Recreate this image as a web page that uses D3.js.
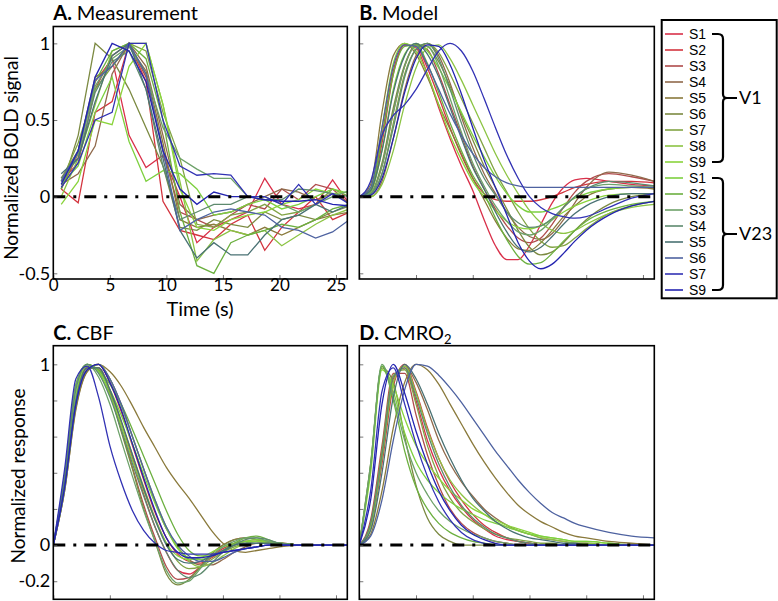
<!DOCTYPE html>
<html><head><meta charset="utf-8">
<script src="https://cdn.jsdelivr.net/npm/d3@7"></script>
<style>
body{margin:0;background:#fff;}
svg{font-family:Lato,"Open Sans",sans-serif;}
</style></head>
<body><svg id="c" width="778" height="601"></svg>
<script>
// ---------- DATA ----------
const seriesNames = ["S1","S2","S3","S4","S5","S6","S7","S8","S9","S1","S2","S3","S4","S5","S6","S7","S9"];
const groups = [{name:"V1", from:0, to:8},{name:"V23", from:9, to:16}];
const seriesColors = ["#d9304a","#d3343e","#b04c4c","#906a4c","#8a7a3c","#7c8a42","#82a444","#8cc444","#8ad43c",
                      "#7ed040","#6cb040","#6ea26a","#5e8a6e","#4a7274","#4e62a0","#3232b4","#2424b0"];

// Panel A: measured BOLD (sampled)
const timeA = [0.7,2.2,3.7,5.2,6.7,8.2,9.7,11.2,12.7,14.2,15.7,17.2,18.7,20.2,21.7,23.2,24.7,26.2];
const boldMeasured = [
 [0.05,0.28,0.75,0.9,0.4,0.19,0.27,0.0,-0.3,-0.2,-0.15,-0.1,0.12,-0.05,-0.08,-0.05,0.11,-0.05],
 [0.05,-0.04,0.55,0.62,1.0,0.75,-0.03,-0.22,-0.25,-0.28,-0.18,-0.12,-0.35,-0.2,-0.1,0.0,-0.15,-0.1],
 [0.1,0.22,0.7,0.92,1.0,0.78,0.3,-0.1,-0.15,-0.2,-0.12,-0.05,-0.08,0.05,-0.02,0.08,0.05,-0.05],
 [0.08,0.15,0.33,0.8,1.0,0.85,0.4,-0.05,-0.15,-0.12,-0.1,-0.05,0.0,0.05,0.03,-0.02,0.02,-0.04],
 [0.12,0.3,0.78,0.85,0.98,0.82,0.35,-0.15,-0.2,-0.18,-0.22,-0.25,-0.2,-0.25,-0.2,-0.15,-0.12,-0.1],
 [0.05,0.4,1.0,0.9,0.7,0.45,0.2,-0.2,-0.22,-0.15,-0.18,-0.2,-0.1,-0.15,-0.12,-0.15,-0.1,-0.06],
 [0.1,0.35,0.7,0.85,1.0,0.95,0.55,0.25,-0.18,-0.2,-0.12,-0.1,-0.05,-0.12,-0.1,-0.05,0.05,0.0],
 [0.0,0.25,0.6,0.95,1.0,1.0,0.6,0.1,-0.42,-0.28,-0.22,-0.25,-0.22,-0.32,-0.25,-0.18,-0.12,-0.08],
 [-0.05,0.1,0.5,0.47,0.85,1.0,0.6,0.05,-0.2,-0.22,-0.15,-0.12,-0.1,-0.05,-0.02,0.05,0.02,0.03],
 [0.08,0.2,0.55,0.78,0.36,0.1,0.17,0.15,0.05,-0.12,-0.1,-0.05,-0.02,-0.08,-0.05,0.0,0.05,0.02],
 [0.05,0.3,0.75,0.95,1.0,0.9,0.5,-0.1,-0.45,-0.5,-0.3,-0.25,-0.22,-0.18,-0.2,-0.15,-0.08,-0.05],
 [0.1,0.28,0.72,0.9,0.98,0.8,0.45,0.25,0.18,0.12,0.12,0.0,0.0,-0.05,-0.1,-0.05,0.0,0.04],
 [0.12,0.25,0.68,0.88,0.95,0.7,0.2,-0.15,-0.1,-0.05,-0.05,0.0,-0.02,-0.02,0.05,0.04,0.02,0.0],
 [0.15,0.25,0.62,0.92,1.0,0.7,0.25,-0.22,-0.4,-0.3,-0.38,-0.38,-0.25,-0.15,-0.12,-0.05,-0.1,-0.05],
 [0.1,0.3,0.76,0.85,1.0,0.8,0.3,-0.22,-0.15,-0.1,-0.08,-0.1,-0.12,-0.2,-0.22,-0.27,-0.23,-0.15],
 [0.06,0.22,0.5,0.55,1.0,1.0,0.5,0.2,0.14,0.15,0.14,0.0,0.0,-0.05,0.08,-0.05,0.02,-0.05],
 [0.08,0.3,0.78,1.0,0.95,0.75,0.3,0.05,-0.05,0.03,0.0,0.0,-0.02,-0.03,-0.03,-0.02,-0.05,-0.06]
];

// Panels B, C, D: model curves sampled on a common time grid
const timeS = [0,1,2,3,4,5,6,7,8,9,10,11,12,13,14,15,16,17,18,19,20,22,24,26];
const boldModel = [
 [0,0.03,0.35,0.8,0.99,0.97,0.8,0.58,0.38,0.2,0.04,-0.15,-0.32,-0.41,-0.41,-0.32,-0.18,-0.04,0.06,0.11,0.12,0.1,0.08,0.07],
 [0,0.05,0.4,0.82,0.99,0.98,0.84,0.65,0.45,0.27,0.12,0.02,-0.02,-0.03,-0.03,-0.03,-0.02,0.0,0.03,0.06,0.08,0.1,0.1,0.09],
 [0,0.02,0.2,0.55,0.85,0.99,0.96,0.8,0.6,0.4,0.2,0.05,-0.08,-0.19,-0.27,-0.3,-0.27,-0.18,-0.07,0.03,0.1,0.15,0.13,0.1],
 [0,0.0,0.1,0.38,0.7,0.92,1.0,0.92,0.74,0.52,0.32,0.15,0.02,-0.1,-0.2,-0.26,-0.28,-0.24,-0.15,-0.04,0.06,0.16,0.14,0.1],
 [0,0.08,0.55,0.92,1.0,0.93,0.78,0.6,0.44,0.28,0.12,-0.02,-0.16,-0.27,-0.34,-0.35,-0.3,-0.22,-0.13,-0.06,0.0,0.05,0.06,0.05],
 [0,0.02,0.22,0.58,0.86,0.99,0.98,0.88,0.72,0.54,0.37,0.2,0.06,-0.08,-0.22,-0.33,-0.38,-0.36,-0.3,-0.22,-0.15,-0.05,0.0,0.02],
 [0,0.01,0.15,0.48,0.8,0.96,1.0,0.94,0.8,0.64,0.48,0.32,0.16,0.03,-0.1,-0.21,-0.29,-0.33,-0.32,-0.27,-0.21,-0.11,-0.06,-0.03],
 [0,0.0,0.08,0.3,0.6,0.84,0.97,0.99,0.9,0.76,0.6,0.44,0.28,0.14,0.02,-0.09,-0.17,-0.22,-0.24,-0.22,-0.18,-0.11,-0.07,-0.05],
 [0,0.05,0.45,0.87,1.0,0.95,0.8,0.6,0.4,0.24,0.1,0.0,-0.09,-0.16,-0.2,-0.21,-0.19,-0.15,-0.1,-0.06,-0.03,0.01,0.02,0.02],
 [0,0.03,0.3,0.7,0.93,1.0,0.95,0.84,0.7,0.55,0.4,0.26,0.13,0.02,-0.06,-0.1,-0.1,-0.08,-0.05,-0.01,0.02,0.05,0.06,0.06],
 [0,0.04,0.38,0.8,0.98,0.99,0.87,0.68,0.48,0.3,0.14,0.02,-0.14,-0.28,-0.39,-0.44,-0.43,-0.37,-0.29,-0.22,-0.16,-0.09,-0.05,-0.03],
 [0,0.02,0.2,0.55,0.85,0.98,0.98,0.85,0.64,0.42,0.22,0.07,-0.06,-0.16,-0.23,-0.25,-0.22,-0.15,-0.07,0.0,0.05,0.08,0.07,0.06],
 [0,0.02,0.15,0.45,0.78,0.96,1.0,0.9,0.7,0.48,0.28,0.12,0.01,-0.1,-0.17,-0.2,-0.19,-0.14,-0.07,0.0,0.05,0.1,0.09,0.07],
 [0,0.04,0.3,0.68,0.92,1.0,0.93,0.78,0.58,0.38,0.19,0.05,-0.1,-0.23,-0.33,-0.36,-0.33,-0.26,-0.18,-0.11,-0.06,0.0,0.02,0.02],
 [0,0.06,0.45,0.85,0.99,0.98,0.86,0.7,0.54,0.4,0.28,0.19,0.13,0.09,0.07,0.06,0.06,0.06,0.06,0.06,0.06,0.06,0.06,0.06],
 [0,0.1,0.4,0.53,0.6,0.7,0.83,0.95,1.0,0.95,0.82,0.64,0.45,0.27,0.12,0.0,-0.07,-0.11,-0.13,-0.14,-0.13,-0.07,-0.01,0.02],
 [0,0.01,0.12,0.38,0.68,0.9,0.99,0.98,0.86,0.67,0.45,0.24,0.06,-0.12,-0.3,-0.42,-0.47,-0.44,-0.37,-0.29,-0.22,-0.12,-0.06,-0.03]
];
const cbf = [
 [0,0.33,0.8,0.98,0.98,0.86,0.68,0.48,0.28,0.1,-0.04,-0.14,-0.16,-0.12,-0.06,-0.02,0.01,0.02,0.02,0.01,0.0,0,0,0],
 [0,0.32,0.78,0.97,1.0,0.9,0.74,0.55,0.36,0.18,0.04,-0.05,-0.09,-0.1,-0.07,-0.03,0.0,0.02,0.02,0.01,0.01,0,0,0],
 [0,0.34,0.8,0.98,0.97,0.84,0.64,0.43,0.22,0.04,-0.12,-0.19,-0.18,-0.12,-0.05,0.0,0.03,0.04,0.03,0.02,0.01,0,0,0],
 [0,0.3,0.76,0.96,1.0,0.92,0.78,0.6,0.42,0.24,0.09,-0.01,-0.08,-0.11,-0.11,-0.08,-0.04,-0.01,0.01,0.01,0.01,0,0,0],
 [0,0.3,0.75,0.96,1.0,0.96,0.88,0.77,0.65,0.54,0.43,0.34,0.26,0.17,0.08,0.01,-0.03,-0.04,-0.03,-0.02,-0.01,0,0,0],
 [0,0.33,0.8,0.98,0.98,0.84,0.63,0.42,0.2,0.02,-0.16,-0.22,-0.19,-0.12,-0.05,0.0,0.03,0.04,0.03,0.02,0.01,0,0,0],
 [0,0.35,0.82,0.99,0.97,0.85,0.68,0.5,0.32,0.15,0.01,-0.09,-0.13,-0.12,-0.08,-0.04,-0.01,0.01,0.02,0.01,0.01,0,0,0],
 [0,0.31,0.78,0.97,1.0,0.92,0.77,0.6,0.42,0.25,0.1,-0.01,-0.09,-0.12,-0.1,-0.06,-0.02,0.01,0.02,0.02,0.01,0,0,0],
 [0,0.36,0.83,1.0,0.96,0.83,0.66,0.47,0.3,0.14,0.01,-0.06,-0.08,-0.07,-0.04,-0.01,0.01,0.02,0.02,0.01,0.0,0,0,0],
 [0,0.38,0.88,1.0,0.96,0.86,0.72,0.56,0.39,0.23,0.09,-0.02,-0.07,-0.08,-0.06,-0.03,0.0,0.02,0.03,0.02,0.01,0,0,0],
 [0,0.39,0.89,1.0,0.97,0.89,0.78,0.64,0.49,0.34,0.19,0.06,-0.03,-0.06,-0.06,-0.03,0.01,0.04,0.05,0.03,0.01,0,0,0],
 [0,0.38,0.88,1.0,0.93,0.78,0.58,0.38,0.19,0.02,-0.14,-0.21,-0.2,-0.13,-0.06,-0.01,0.02,0.04,0.04,0.02,0.01,0,0,0],
 [0,0.37,0.86,1.0,0.95,0.82,0.64,0.45,0.27,0.1,-0.04,-0.14,-0.18,-0.16,-0.1,-0.04,0.0,0.03,0.04,0.03,0.01,0,0,0],
 [0,0.34,0.8,0.98,0.98,0.86,0.69,0.5,0.31,0.14,0.0,-0.08,-0.1,-0.09,-0.06,-0.03,0.0,0.01,0.01,0.01,0.0,0,0,0],
 [0,0.31,0.78,0.97,1.0,0.92,0.78,0.6,0.42,0.25,0.1,0.0,-0.06,-0.09,-0.09,-0.07,-0.04,-0.02,-0.01,0.0,0.0,0,0,0],
 [0,0.42,0.92,0.99,0.82,0.55,0.35,0.19,0.08,0.01,-0.03,-0.04,-0.05,-0.05,-0.05,-0.04,-0.03,-0.02,-0.01,0.0,0.0,0,0,0],
 [0,0.32,0.78,0.97,1.0,0.9,0.75,0.56,0.37,0.19,0.04,-0.04,-0.07,-0.07,-0.06,-0.04,-0.03,-0.02,-0.01,0.0,0.0,0,0,0]
];
const cmro2 = [
 [0,0.12,0.5,0.92,0.98,0.8,0.58,0.42,0.3,0.21,0.14,0.09,0.05,0.03,0.02,0.01,0,0,0,0,0,0,0,0],
 [0,0.1,0.45,0.88,1.0,0.85,0.65,0.48,0.35,0.25,0.17,0.11,0.07,0.04,0.02,0.01,0,0,0,0,0,0,0,0],
 [0,0.14,0.55,0.95,0.95,0.72,0.5,0.33,0.2,0.12,0.07,0.04,0.02,0.01,0,0,0,0,0,0,0,0,0,0],
 [0,0.1,0.48,0.9,0.99,0.9,0.75,0.58,0.45,0.35,0.27,0.2,0.15,0.11,0.08,0.06,0.04,0.03,0.02,0.01,0.01,0,0,0],
 [0,0.06,0.3,0.65,0.9,1.0,0.97,0.89,0.78,0.67,0.56,0.46,0.37,0.29,0.22,0.17,0.13,0.1,0.07,0.05,0.04,0.02,0.01,0],
 [0,0.45,0.98,0.9,0.6,0.33,0.15,0.06,0.02,0,0,0,0,0,0,0,0,0,0,0,0,0,0,0],
 [0,0.12,0.52,0.94,0.97,0.78,0.55,0.38,0.26,0.18,0.13,0.09,0.06,0.04,0.03,0.02,0.01,0.01,0,0,0,0,0,0],
 [0,0.1,0.48,0.9,0.99,0.84,0.64,0.48,0.36,0.28,0.22,0.17,0.13,0.1,0.08,0.06,0.04,0.03,0.02,0.01,0.01,0,0,0],
 [0,0.4,0.97,0.88,0.7,0.55,0.45,0.37,0.3,0.25,0.2,0.17,0.14,0.11,0.09,0.07,0.05,0.04,0.03,0.02,0.02,0.01,0,0],
 [0,0.43,0.99,0.85,0.62,0.46,0.36,0.29,0.24,0.2,0.17,0.14,0.12,0.1,0.08,0.06,0.05,0.04,0.03,0.02,0.02,0.01,0,0],
 [0,0.44,0.99,0.8,0.52,0.32,0.2,0.12,0.07,0.04,0.02,0.01,0,0,0,0,0,0,0,0,0,0,0,0],
 [0,0.45,1.0,0.82,0.58,0.4,0.28,0.19,0.13,0.09,0.06,0.04,0.02,0.01,0,0,0,0,0,0,0,0,0,0],
 [0,0.12,0.5,0.93,0.98,0.82,0.62,0.45,0.32,0.22,0.15,0.1,0.06,0.04,0.02,0.01,0,0,0,0,0,0,0,0],
 [0,0.08,0.4,0.82,1.0,0.92,0.78,0.62,0.48,0.36,0.26,0.19,0.13,0.09,0.06,0.04,0.03,0.02,0.01,0.01,0,0,0,0],
 [0,0.05,0.25,0.58,0.86,1.0,0.99,0.94,0.87,0.79,0.7,0.61,0.52,0.44,0.36,0.29,0.23,0.18,0.15,0.12,0.1,0.07,0.05,0.04],
 [0,0.3,0.85,0.98,0.78,0.56,0.38,0.24,0.14,0.07,0.03,0.01,0,0,0,0,0,0,0,0,0,0,0,0],
 [0,0.25,0.78,1.0,0.84,0.63,0.45,0.3,0.19,0.11,0.06,0.03,0.01,0,0,0,0,0,0,0,0,0,0,0]
];

const xTicks = [0,5,10,15,20,25];
const yTicksTop = [-0.5,0,0.5,1];
const yTickLabelsTop = ["-0.5","0","0.5","1"];
const yTicksBottom = [-0.2,0,0.2,0.4,0.6,0.8,1];
const yTickLabelsBottom = {"-0.2":"-0.2","0":"0","1":"1"};

// ---------- DRAW ----------
const svg = d3.select("#c");
const FONT = 'Lato,"Open Sans",sans-serif';

function panel(cfg){
  const x = d3.scaleLinear().domain([0,26]).range([cfg.x0,cfg.x1]);
  const y = d3.scaleLinear().domain(cfg.ydom).range([cfg.y1,cfg.y0]);
  const g = svg.append("g");
  const clipId = "clip"+cfg.id;
  svg.append("clipPath").attr("id",clipId).append("rect")
     .attr("x",cfg.x0).attr("y",cfg.y0).attr("width",cfg.x1-cfg.x0).attr("height",cfg.y1-cfg.y0);
  const lines = g.append("g").attr("clip-path",`url(#${clipId})`);
  const line = d3.line().x((d,i)=>x(cfg.times[i])).y(d=>y(d)).curve(cfg.curve);
  cfg.data.forEach((s,i)=>{
    lines.append("path").attr("d",line(s)).attr("fill","none")
      .attr("stroke",seriesColors[i]).attr("stroke-width",1.3);
  });
  // zero line
  lines.append("line").attr("x1",x(0)).attr("x2",cfg.x1).attr("y1",y(0)).attr("y2",y(0))
    .attr("stroke","#000").attr("stroke-width",3).attr("stroke-dasharray","12,8,3,8");
  // ticks (inward)
  const xa = d3.axisBottom(x).tickValues(cfg.xTickVals).tickSize(-4).tickSizeOuter(0)
     .tickFormat(cfg.xLabels ? d3.format("d") : "");
  const gx = g.append("g").attr("transform",`translate(0,${cfg.y1})`).call(xa);
  gx.select(".domain").remove();
  gx.selectAll(".tick line").attr("stroke","#555").attr("stroke-width",0.8);
  gx.selectAll("text").attr("font-family",FONT).attr("font-size",17).attr("fill","#000").attr("y",0).attr("dy","0.72em");
  const ya = d3.axisLeft(y).tickValues(cfg.yTickVals).tickSize(-4).tickSizeOuter(0)
     .tickFormat(cfg.yFormat);
  const gy = g.append("g").attr("transform",`translate(${cfg.x0},0)`).call(ya);
  gy.select(".domain").remove();
  gy.selectAll(".tick line").attr("stroke","#555").attr("stroke-width",0.8);
  gy.selectAll("text").attr("font-family",FONT).attr("font-size",18).attr("fill","#000").attr("x",-3);
  // frame
  g.append("rect").attr("x",cfg.x0).attr("y",cfg.y0).attr("width",cfg.x1-cfg.x0).attr("height",cfg.y1-cfg.y0)
    .attr("fill","none").attr("stroke","#000").attr("stroke-width",1.6);
  // title
  const t = g.append("text").attr("x",cfg.x0).attr("y",cfg.titleY).attr("font-family",FONT).attr("font-size",20);
  t.append("tspan").attr("font-weight","bold").text(cfg.letter+" ");
  t.append("tspan").text(cfg.title);
  if(cfg.sub){ t.append("tspan").attr("font-size",13).attr("dy",4).text(cfg.sub); }
  return {x,y};
}

const topDom = [-0.537,1.11], botDom = [-0.3,1.103];
panel({id:"A",x0:53.3,x1:347.3,y0:26.5,y1:279,ydom:topDom,times:timeA,data:boldMeasured,curve:d3.curveLinear,
  xTickVals:xTicks,xLabels:true,yTickVals:yTicksTop,yFormat:(d)=>yTickLabelsTop[yTicksTop.indexOf(d)],
  letter:"A.",title:"Measurement",titleY:20});
panel({id:"B",x0:359.3,x1:654.3,y0:26.5,y1:279,ydom:topDom,times:timeS,data:boldModel,curve:d3.curveMonotoneX,
  xTickVals:xTicks,xLabels:false,yTickVals:yTicksTop,yFormat:()=>"",letter:"B.",title:"Model",titleY:20});
panel({id:"C",x0:53.3,x1:347.3,y0:345.7,y1:599.3,ydom:botDom,times:timeS,data:cbf,curve:d3.curveMonotoneX,
  xTickVals:xTicks,xLabels:false,yTickVals:yTicksBottom,yFormat:(d)=>yTickLabelsBottom[String(+d.toFixed(1))]||"",
  letter:"C.",title:"CBF",titleY:340});
panel({id:"D",x0:359.3,x1:654.3,y0:345.7,y1:599.3,ydom:botDom,times:timeS,data:cmro2,curve:d3.curveMonotoneX,
  xTickVals:xTicks,xLabels:false,yTickVals:yTicksBottom,yFormat:()=>"",letter:"D.",title:"CMRO",sub:"2",titleY:340});

// axis titles
svg.append("text").attr("transform","translate(18,158) rotate(-90)").attr("text-anchor","middle")
  .attr("font-family",FONT).attr("font-size",19).text("Normalized BOLD signal");
svg.append("text").attr("x",200).attr("y",315.5).attr("text-anchor","middle")
  .attr("font-family",FONT).attr("font-size",20).text("Time (s)");
svg.append("text").attr("transform","translate(25,476) rotate(-90)").attr("text-anchor","middle")
  .attr("font-family",FONT).attr("font-size",19).text("Normalized response");

// legend
const lg = svg.append("g");
lg.append("rect").attr("x",661.7).attr("y",20).attr("width",115).attr("height",278.3)
  .attr("fill","#fff").attr("stroke","#000").attr("stroke-width",2);
const rowY = d3.scaleLinear().domain([0,16]).range([34,290]);
seriesNames.forEach((n,i)=>{
  lg.append("line").attr("x1",665).attr("x2",683).attr("y1",rowY(i)).attr("y2",rowY(i))
    .attr("stroke",seriesColors[i]).attr("stroke-width",1.6);
  lg.append("text").attr("x",689).attr("y",rowY(i)).attr("dy","0.36em")
    .attr("font-family",'"Liberation Sans",Arial,sans-serif').attr("font-size",14).text(n);
});
groups.forEach(gr=>{
  const y0 = rowY(gr.from), y1 = rowY(gr.to), ym = (y0+y1)/2;
  const bx = 723;
  const p = `M712,${y0} H${bx-5} Q${bx},${y0} ${bx},${y0+5} V${ym-4} Q${bx},${ym} ${bx+4},${ym} H737 M${bx+4},${ym} Q${bx},${ym} ${bx},${ym+4} V${y1-5} Q${bx},${y1} ${bx-5},${y1} H712`;
  lg.append("path").attr("d",p).attr("fill","none").attr("stroke","#000").attr("stroke-width",2.2);
  lg.append("text").attr("x",739).attr("y",ym).attr("dy","0.36em")
    .attr("font-family",FONT).attr("font-size",18).text(gr.name);
});
</script></body></html>
